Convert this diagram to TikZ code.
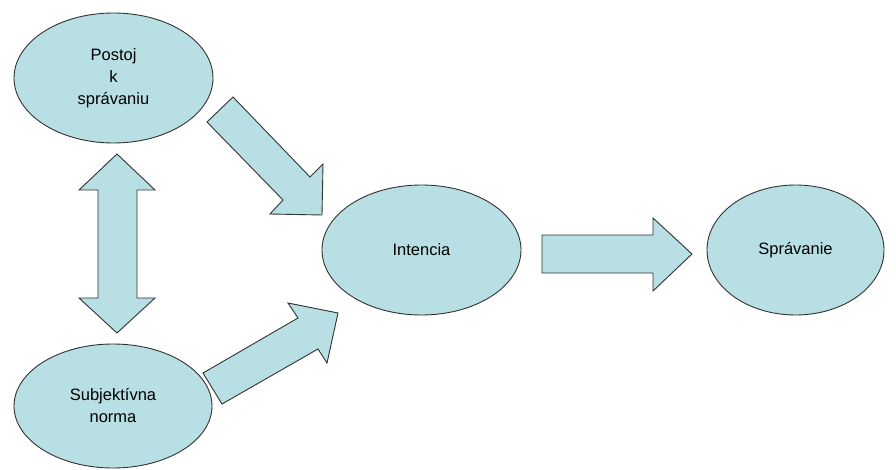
\documentclass[tikz,border=0pt]{standalone}
\usepackage{fontspec}
\setmainfont{Liberation Sans}
\usetikzlibrary{shapes.geometric}
\definecolor{bubble}{RGB}{184,223,227}
\definecolor{rim}{RGB}{50,50,50}
\begin{document}
\begin{tikzpicture}[x=1pt,y=-1pt,
  oval/.style={ellipse, draw=rim, fill=bubble, line width=0.9pt, inner sep=0pt,
    align=center, font=\fontsize{16.5}{22}\selectfont},
  blockarrow/.style={draw=rim, fill=bubble, line width=0.9pt, line join=miter}]
  \useasboundingbox (0,0) rectangle (896,470);

  % the four concepts
  \node[oval, minimum width=199pt, minimum height=130pt] (postoj) at (113.5,78) {Postoj\\k\\správaniu};
  \node[oval, minimum width=198pt, minimum height=124pt] (norma) at (113,406) {Subjektívna\\norma};
  \node[oval, minimum width=199pt, minimum height=130pt] (intencia) at (421.5,250) {Intencia};
  \node[oval, minimum width=177pt, minimum height=130pt] (spravanie) at (795.5,250) {Správanie};

  % two-headed arrow between attitude and norm
  \draw[blockarrow] (117,154) -- (155,190) -- (137,190) -- (137,298) -- (155,298)
    -- (117,333) -- (79,298) -- (98,298) -- (98,190) -- (79,190) -- cycle;

  % attitude -> intention
  \draw[blockarrow] (207,122) -- (233,97) -- (310,177) -- (323,164) -- (322,215)
    -- (270,214) -- (283,200) -- cycle;

  % norm -> intention
  \draw[blockarrow] (203,373) -- (298,318) -- (288,303) -- (338,313) -- (327,363)
    -- (318,349) -- (222,404) -- cycle;

  % intention -> behaviour
  \draw[blockarrow] (542,235) -- (653,235) -- (653,218) -- (692,254) -- (653,291)
    -- (653,273) -- (542,273) -- cycle;
\end{tikzpicture}
\end{document}
